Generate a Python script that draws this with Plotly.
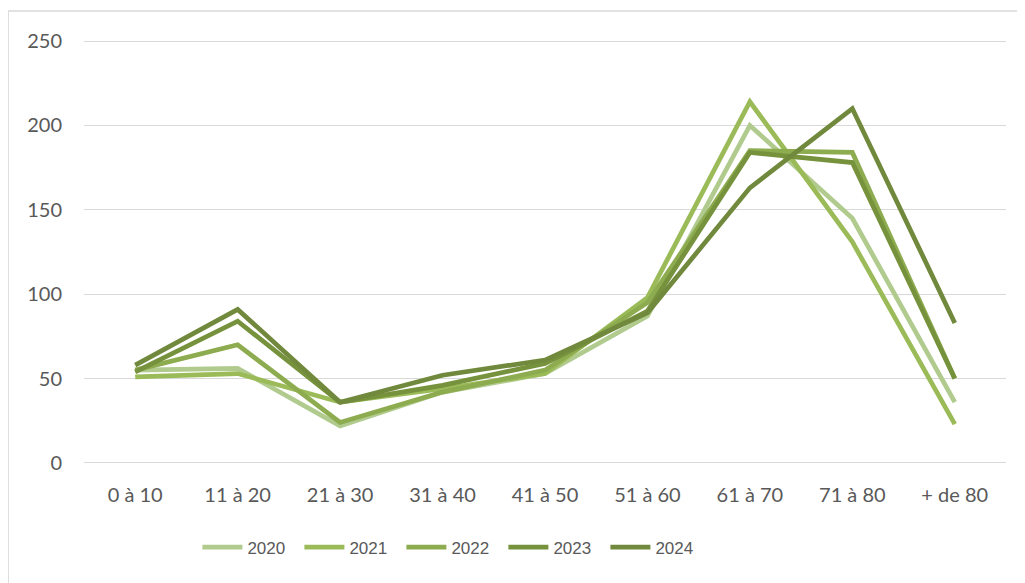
import plotly.graph_objects as go

categories = ["0 à 10", "11 à 20", "21 à 30", "31 à 40", "41 à 50",
              "51 à 60", "61 à 70", "71 à 80", "+ de 80"]
years = ["2020", "2021", "2022", "2023", "2024"]
v2020 = [55, 56, 22, 42, 53, 87, 200, 145, 36]
v2021 = [51, 53, 36, 44, 53, 98, 214, 131, 23]
v2022 = [55, 70, 24, 42, 55, 95, 185, 184, 50]
v2023 = [54, 84, 36, 46, 59, 90, 184, 178, 50]
v2024 = [58, 91, 36, 52, 61, 89, 163, 210, 83]
series = [v2020, v2021, v2022, v2023, v2024]
colors = ["#b0cb8d", "#9bbb59", "#8dab4f", "#76923c", "#71893c"]

fig = go.Figure()
for name, vals, col in zip(years, series, colors):
    fig.add_trace(go.Scatter(x=categories, y=vals, name=name, mode="lines",
                             line=dict(color=col, width=4.7)))

# page body adds an 8px offset; margins compensate for it
L, T, PW, PH = 76, 32, 922, 424
fig.update_layout(
    width=1025, height=583,
    margin=dict(l=L, r=1025 - L - PW, t=T, b=583 - T - PH, autoexpand=False),
    paper_bgcolor="white", plot_bgcolor="white",
    showlegend=True,
    font=dict(family="Lato, Open Sans, sans-serif", size=20, color="#595959"),
    legend=dict(orientation="h", x=0.123, xanchor="left", y=-0.197, yanchor="middle",
                font=dict(family="Liberation Sans, Arial, sans-serif",
                          size=17, color="#595959"),
                itemwidth=40, entrywidth=47, entrywidthmode="pixels",
                bgcolor="rgba(0,0,0,0)"),
    xaxis=dict(type="category", range=[-0.5, 8.5], showgrid=False, showline=False,
               zeroline=False, ticks="", tickfont=dict(size=20, color="#595959"),
               ticklabelstandoff=17, automargin=False),
    yaxis=dict(range=[-0.6, 250.6], tickvals=[0, 50, 100, 150, 200, 250],
               showgrid=True, gridcolor="#d9d9d9",
               gridwidth=1.3, zeroline=False, showline=False, ticks="",
               tickfont=dict(size=20, color="#595959"), ticklabelstandoff=21,
               automargin=False),
    shapes=[dict(type="rect", xref="paper", yref="paper",
                 x0=(0.2 - L) / PW, x1=(1060 - L) / PW,
                 y0=(T + PH - 620) / PH, y1=(T + PH - 3) / PH,
                 line=dict(color="#d9d9d9", width=1.3), layer="below")],
)
fig.write_html("out.html")
